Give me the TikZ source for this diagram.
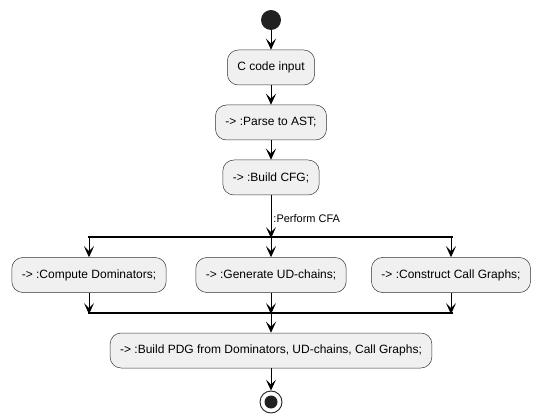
\documentclass[tikz,border=0pt]{standalone}
\usepackage{fontspec}
\setmainfont{Liberation Sans}
\usetikzlibrary{positioning, arrows.meta}

\begin{document}
\begin{tikzpicture}[x=1pt,y=-1pt,node distance=55pt,on grid,
		act/.style={draw=black!80,fill=black!6,line width=0.5pt,rounded corners=11pt,
			minimum height=35pt,inner xsep=10pt,font=\fontsize{12}{14}\selectfont},
		flow/.style={-{Stealth[length=11pt,width=10pt,inset=5pt]},line width=0.9pt},
		bar/.style={line width=2.2pt}]
	\useasboundingbox (0,0) rectangle (540,419);
	\node[circle,fill=black!87,minimum size=20pt,inner sep=0pt] (start) at (271,20) {};
	\node[act] (input) at (271,67.5)		{C code input};
	\node[act] (parse) [below=of input]		{-> :Parse to AST;};
	\node[act] (cfg)   [below=of parse]		{-> :Build CFG;};
	\node[act] (ud)    [below=97.5pt of cfg]	{-> :Generate UD-chains;};
	\node[act] (dom)   [left=182pt of ud]	{-> :Compute Dominators;};
	\node[act] (call)  [right=180pt of ud]	{-> :Construct Call Graphs;};
	\node[act] (pdg)   [below=75.5pt of ud]	{-> :Build PDG from Dominators, UD-chains, Call Graphs;};
	\node[circle,draw=black!87,line width=0.9pt,minimum size=22pt,inner sep=0pt] (stop) [below=51.5pt of pdg] {};
	\node[circle,fill=black!87,minimum size=13pt,inner sep=0pt] (stopdot) at (stop) {};
	% fork and join bars
	\coordinate (fork)  at (271,237);
	\coordinate (forkl) at (dom |- fork);
	\coordinate (forkr) at (call |- fork);
	\coordinate (join)  at (271,313);
	\coordinate (joinl) at (dom |- join);
	\coordinate (joinr) at (call |- join);
	\draw[bar] ([xshift=-1pt]forkl) -- ([xshift=2pt]forkr);
	\draw[bar] ([xshift=-1pt]joinl) -- ([xshift=2pt]joinr);
	\path[flow]	(start) edge (input)
				(input) edge (parse)
				(parse) edge (cfg)
				(cfg)   edge node [right,font=\fontsize{11}{13}\selectfont,inner xsep=2pt,yshift=-2pt] {:Perform CFA} ([yshift=-1.1pt]fork)
				([yshift=1.1pt]forkl) edge (dom)
				([yshift=1.1pt]fork)  edge (ud)
				([yshift=1.1pt]forkr) edge (call)
				(dom)   edge ([yshift=-1.1pt]joinl)
				(ud)    edge ([yshift=-1.1pt]join)
				(call)  edge ([yshift=-1.1pt]joinr)
				([yshift=1.1pt]join) edge (pdg)
				(pdg)   edge (stop)
				;
\end{tikzpicture}
\end{document}
